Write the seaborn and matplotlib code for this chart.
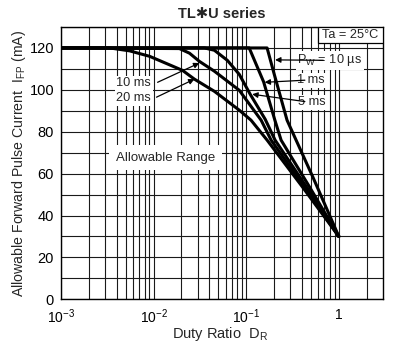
import matplotlib
matplotlib.use("Agg")
import matplotlib.pyplot as plt
import numpy as np
import pandas as pd
import seaborn as sns
from matplotlib.ticker import FixedLocator, NullFormatter
from matplotlib.patches import Rectangle

# Derating curves: allowable forward pulse current vs duty ratio
pulse_labels = ["10 µs", "1 ms", "5 ms", "10 ms", "20 ms"]

duty_10us = [0.001, 0.1681, 0.2, 0.2761, 0.5253, 1.0]
ifp_10us = [120, 120, 107.7, 85.5, 58.3, 30]

duty_1ms = [0.001, 0.1077, 0.1542, 0.204, 0.238, 0.4878, 1.0]
ifp_1ms = [120, 120, 103.8, 85.5, 76.0, 53.3, 30]

duty_5ms = [0.001, 0.0354, 0.0453, 0.0625, 0.0841, 0.1104, 0.1601, 0.205, 0.4528, 1.0]
ifp_5ms = [120, 120, 118.9, 114.1, 107.4, 97.9, 86.0, 76.0, 53.3, 30]

duty_10ms = [0.001, 0.0190, 0.0244, 0.0312, 0.0453, 0.0841, 0.145, 0.1857, 0.4309, 1.0]
ifp_10ms = [120, 119.7, 117.5, 113.6, 108.9, 99.8, 85.5, 76.0, 53.3, 30]

duty_20ms = [0.001, 0.00336, 0.00552, 0.00906, 0.0205, 0.0276, 0.0453, 0.0841, 0.1128, 0.1681, 0.4102, 1.0]
ifp_20ms = [120, 120, 118.6, 116.0, 109.3, 105.1, 99.3, 90.3, 85.5, 76.0, 53.3, 30]

x_tick_values = [1e-3, 1e-2, 1e-1, 1]
x_tick_labels = ["10$^{-3}$", "10$^{-2}$", "10$^{-1}$", "1"]
y_tick_values = [0, 20, 40, 60, 80, 100, 120]

frames = []
for name, d, i in zip(pulse_labels,
                      [duty_10us, duty_1ms, duty_5ms, duty_10ms, duty_20ms],
                      [ifp_10us, ifp_1ms, ifp_5ms, ifp_10ms, ifp_20ms]):
    frames.append(pd.DataFrame({"duty": d, "ifp": i, "pulse": name}))
df = pd.concat(frames, ignore_index=True)

sns.set_style("white")
plt.rcParams["font.family"] = ["Liberation Sans", "DejaVu Sans"]
plt.rcParams["mathtext.fontset"] = "custom"
plt.rcParams["mathtext.rm"] = "Liberation Sans"
plt.rcParams["mathtext.it"] = "Liberation Sans"
plt.rcParams["mathtext.bf"] = "Liberation Sans:bold"

W, H = 395, 346
fig = plt.figure(figsize=(W / 100, H / 100), dpi=100)
ax = fig.add_axes([61 / W, 1 - 299.3 / H, 322 / W, 272.3 / H])

sns.lineplot(data=df, x="duty", y="ifp", units="pulse", estimator=None,
             color="black", lw=2.2, ax=ax, legend=False, zorder=4)

ax.set_xscale("log")
ax.set_xlim(1e-3, 3)
ax.set_ylim(0, 130)

minor_x = [m * 10.0 ** e for e in range(-3, 1) for m in range(2, 10)
           if m * 10.0 ** e < 3]
ax.xaxis.set_major_locator(FixedLocator(x_tick_values))
ax.xaxis.set_minor_locator(FixedLocator(minor_x))
ax.xaxis.set_minor_formatter(NullFormatter())
ax.set_xticklabels(x_tick_labels)
ax.yaxis.set_major_locator(FixedLocator(y_tick_values))
ax.yaxis.set_minor_locator(FixedLocator(list(range(10, 131, 20))))

ax.grid(which="both", color="#1a1a1a", lw=0.8, zorder=1)
ax.set_axisbelow(True)
ax.tick_params(which="both", length=0, labelsize=10.5, colors="black")
ax.tick_params(axis="x", labelsize=10)
ax.tick_params(axis="y", pad=5)
ax.tick_params(axis="x", pad=6)
for s in ax.spines.values():
    s.set_color("black")
    s.set_linewidth(1.0)
ax.set_xlabel("")
ax.set_ylabel("")

fig.text(222 / W, 1 - 14 / H, "TL\u2731U series", ha="center", va="center",
         fontsize=10.5, fontweight="bold")
fig.text(19 / W, 1 - 163.5 / H,
         "Allowable Forward Pulse Current  I$_{\\mathrm{FP}}$ (mA)",
         rotation=90, ha="center", va="center", fontsize=10.2)
fig.text(220 / W, 1 - 334 / H, "Duty Ratio  D$_{\\mathrm{R}}$",
         ha="center", va="center", fontsize=10.5)

# Ta box in the upper-right corner
ax.add_patch(Rectangle((0.798, 0.941), 0.202, 0.059, transform=ax.transAxes,
                       fc="white", ec="black", lw=0.9, zorder=6))
ax.text(0.899, 0.970, "Ta = 25°C", transform=ax.transAxes, ha="center",
        va="center", fontsize=9.2, zorder=7)

wb = dict(boxstyle="square,pad=0.12", fc="white", ec="none")
ax.text(0.01345, 67.6, "Allowable Range", ha="center", va="center",
        fontsize=9.5, zorder=3,
        bbox=dict(boxstyle="square,pad=0.5", fc="white", ec="none"))

label_specs = [
    ("10 ms", (0.0061, 103.1), (0.01104, 103.6), (0.0312, 112.8)),
    ("20 ms", (0.0061, 96.0), (0.01075, 96.5), (0.0276, 105.1)),
    ("P$_{\\mathrm{W}}$ = 10 µs", (0.80, 114.1), (0.68, 114.1), (0.205, 114.3)),
    ("1 ms", (0.50, 104.6), (0.43, 104.6), (0.158, 103.6)),
    ("5 ms", (0.51, 94.1), (0.43, 94.4), (0.116, 97.9)),
]
for txt, pos, tail, tip in label_specs:
    ax.text(pos[0], pos[1], txt, ha="center", va="center", fontsize=9.2,
            zorder=3, bbox=wb)
    ax.annotate("", xy=tip, xytext=tail,
                arrowprops=dict(arrowstyle="-|>", color="black", lw=0.9,
                                mutation_scale=8, shrinkA=0, shrinkB=0),
                zorder=5)

fig.savefig("out.png", dpi=100)
